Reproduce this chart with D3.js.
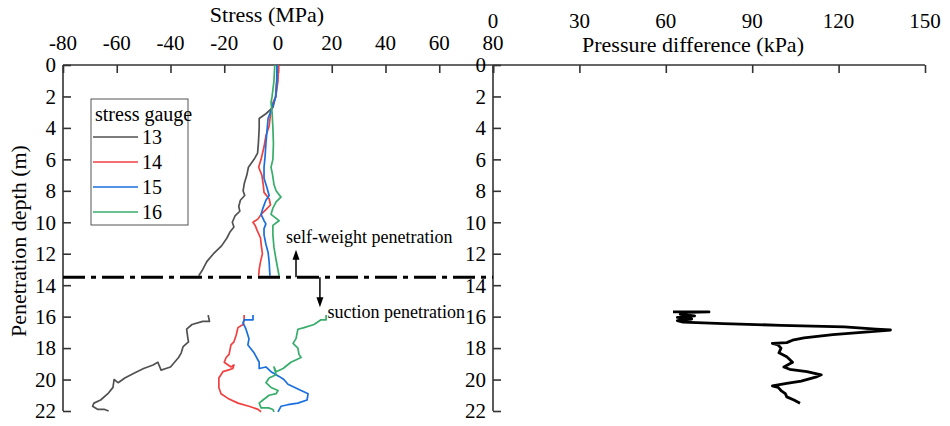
<!DOCTYPE html>
<html>
<head>
<meta charset="utf-8">
<script src="https://cdn.jsdelivr.net/npm/d3@7"></script>
<style>
  body { margin: 0; background: #fff; }
  svg text { font-family: "Liberation Serif", "Times New Roman", serif; }
</style>
</head>
<body>
<svg id="chart" width="950" height="426"></svg>
<script>
// depth (m), stress (MPa)
const gauge13Upper = [[0,-0.3],[1,-0.5],[2,-0.9],[2.7,-1.9],[3.1,-4.5],[3.4,-7],[4,-7],[5,-7.3],[5.6,-7.6],[6,-8.9],[6.5,-11],[7,-11.6],[7.5,-12.5],[8,-13],[8.3,-12.4],[8.6,-14],[9,-14.6],[9.3,-14.2],[9.6,-16],[10,-17],[10.3,-16.4],[10.6,-17.8],[11,-19],[11.5,-21],[12,-24],[12.5,-26.5],[13,-28],[13.4,-29.5]];
const gauge14Upper = [[0,0.2],[1,0],[2,-0.8],[2.4,-1.9],[3,-2.7],[3.9,-3.3],[4.5,-4.5],[5.2,-5.2],[6,-6.3],[6.5,-7.2],[7,-6],[7.6,-5.5],[8.1,-5.2],[8.5,-3.3],[8.9,-2.8],[9.2,-4.5],[9.5,-6.3],[9.8,-7.5],[10,-9.3],[10.2,-8.5],[10.5,-7.8],[11,-6.5],[11.5,-6.2],[12,-5.8],[12.5,-6.5],[13,-7],[13.4,-7.2]];
const gauge15Upper = [[0,-0.3],[1,-0.4],[2,-0.8],[2.9,-2.6],[3.4,-3.7],[4,-4],[5,-4.5],[5.8,-4.8],[6.5,-5.2],[7.2,-5.2],[7.8,-4.1],[8.3,-3.3],[8.6,-4.5],[9.1,-5.6],[9.5,-6.3],[9.9,-5.2],[10.1,-4.5],[10.4,-5.2],[10.8,-5.2],[11.4,-4.5],[11.9,-3.7],[12.5,-3.3],[13.4,-3]];
const gauge16Upper = [[0,-1.2],[1,-1.5],[2,-2.2],[2.4,-2.6],[3,-2.2],[4,-1.9],[5,-1.7],[6,-1.9],[6.5,-2.6],[7,-2],[7.6,-1.5],[8,-0.7],[8.4,1.1],[8.7,-0.7],[9.1,-1.9],[9.5,-2.6],[9.9,0.4],[10.2,-1.9],[10.8,-1.9],[11.6,-1.5],[12.4,-0.7],[13.4,0.4]];

const gauge13Lower = [[15.9,-26],[16.3,-25.5],[16.3,-28],[16.5,-32],[16.8,-34],[17.3,-33.6],[17.6,-33.3],[17.9,-35.3],[18.3,-36],[18.6,-37],[19.2,-40],[19.3,-41.7],[19.4,-43.5],[18.9,-44.7],[19.07,-46.5],[19.3,-50],[19.6,-53.6],[19.9,-57],[20.2,-59.5],[20,-61],[20.5,-61.4],[20.9,-63.3],[21.3,-66],[21.5,-68.5],[21.7,-69],[21.9,-67],[21.9,-64.5],[22,-63]];
const gauge14Lower = [[15.9,-12.6],[16.2,-12.6],[16.5,-13],[16.7,-14.9],[17.2,-15.6],[17.6,-16.4],[17.8,-17.5],[18.4,-18.2],[18.6,-19.3],[18.9,-20],[19.2,-17.5],[19.07,-16.4],[19.3,-16.8],[19.4,-18.6],[19.5,-20.5],[19.9,-22],[20.5,-22],[20.9,-21.2],[21.2,-18.6],[21.5,-14.9],[21.7,-10.8],[21.9,-7.4],[22.05,-6.3]];
const gauge15Lower = [[15.9,-9.3],[16.2,-9.3],[16.2,-12.6],[16.4,-13],[16.8,-11.9],[17.4,-10.8],[17.8,-11.2],[18.3,-8.9],[18.9,-7],[19.3,-7],[19.2,-4.5],[19.5,-2.6],[19.8,0.4],[20,2.2],[20.3,3.7],[20.7,8.6],[20.9,11.2],[21.3,10.8],[21.5,7.4],[21.6,3.7],[21.7,1.1],[22.05,0]];
const gauge16Lower = [[15.9,17.9],[16.2,17.9],[16.2,16],[16.5,13.4],[16.7,9.7],[16.8,7.4],[17.4,6.7],[17.7,5.6],[18,7.4],[18.4,7.8],[18.6,8.6],[18.9,4.8],[19.3,1.9],[19.5,-0.7],[19.2,-1.5],[19.7,-0.7],[19.9,-3.3],[20.2,-4.5],[20.5,-2.6],[20.7,0],[20.9,-0.7],[21,-3.3],[21.3,-5.6],[21.5,-7],[21.8,-6.3],[21.8,-3.5],[21.9,-1.9],[22.05,-1.5]];

// depth (m), pressure difference (kPa)
const pressureDiff = [[15.7,62.5],[15.7,75],[15.72,68],[15.85,65],[15.95,70],[16.05,64],[16.15,69],[16.25,64],[16.35,66],[16.45,80],[16.55,100],[16.65,122],[16.8,133],[16.85,138],[17,128],[17.15,118],[17.35,108],[17.5,104],[17.65,102],[17.7,97],[17.8,99],[18,100],[18.3,99.3],[18.55,102],[18.9,104],[19.2,101],[19.35,103],[19.5,109],[19.7,114],[19.85,112],[20.1,107],[20.25,102],[20.4,97],[20.5,99],[20.7,100],[20.9,101.5],[21.1,102],[21.3,104.5],[21.5,106.6]];

const gaugeNames = ["13", "14", "15", "16"];
const gaugeColors = ["#515151", "#F14040", "#1A6FDF", "#37AD6B"];
const stressTicks = [-80, -60, -40, -20, 0, 20, 40, 60, 80];
const pressureTicks = [0, 30, 60, 90, 120, 150];
const depthTicks = [0, 2, 4, 6, 8, 10, 12, 14, 16, 18, 20, 22];
const boundaryDepth = 13.5;

const FONT = '"Liberation Serif", "Times New Roman", serif';
const svg = d3.select("#chart").attr("font-family", FONT);
const yTop = 65, yBottom = 411;
const leftX0 = 63, leftX1 = 493, rightX1 = 925;

const y = d3.scaleLinear().domain([0, 22]).range([yTop, yBottom]);
const xS = d3.scaleLinear().domain([-80, 80]).range([leftX0, leftX1]);
const xP = d3.scaleLinear().domain([0, 150]).range([leftX1, rightX1]);

const axisColor = "#333";

// top axis, left panel (stress)
const gS = svg.append("g").attr("transform", `translate(0,${yTop})`);
gS.call(d3.axisBottom(xS).tickValues(d3.range(-70, 80, 20)).tickSize(4).tickFormat(""));
gS.call(d3.axisBottom(xS).tickValues(stressTicks).tickSize(8).tickFormat(""));
gS.selectAll(".domain").remove();
svg.append("g").selectAll("text").data(stressTicks).join("text")
    .attr("x", d => xS(d)).attr("y", 50)
    .attr("text-anchor", "middle").attr("font-size", 21).attr("font-family", FONT)
    .text(d => d);

// top axis, right panel (pressure)
const gP = svg.append("g").attr("transform", `translate(0,${yTop})`);
gP.call(d3.axisBottom(xP).tickValues(d3.range(15, 150, 30)).tickSize(4).tickFormat(""));
gP.call(d3.axisBottom(xP).tickValues(pressureTicks).tickSize(8).tickFormat(""));
gP.selectAll(".domain").remove();
svg.append("g").selectAll("text").data(pressureTicks).join("text")
    .attr("x", d => xP(d)).attr("y", 28)
    .attr("text-anchor", "middle").attr("font-size", 21).attr("font-family", FONT)
    .text(d => d);

svg.append("line").attr("x1", leftX0).attr("x2", rightX1).attr("y1", yTop).attr("y2", yTop)
    .attr("stroke", axisColor).attr("stroke-width", 1.6);

// y axes (ticks inward, to the right)
[leftX0, leftX1].forEach(xx => {
  const g = svg.append("g").attr("transform", `translate(${xx},0)`);
  g.call(d3.axisRight(y).tickValues(d3.range(1, 22, 2)).tickSize(4).tickFormat(""));
  g.call(d3.axisRight(y).tickValues(depthTicks).tickSize(8).tickFormat(""));
  g.selectAll(".domain").remove();
  g.append("line").attr("y1", yTop).attr("y2", yBottom).attr("stroke", axisColor).attr("stroke-width", 1.6);
  g.selectAll("text.lbl").data(depthTicks).join("text").attr("class", "lbl")
      .attr("x", -7).attr("y", d => y(d)).attr("dy", "0.35em")
      .attr("text-anchor", "end").attr("font-size", 21).attr("font-family", FONT).attr("fill", "#000")
      .text(d => d);
});
svg.selectAll(".tick line").attr("stroke", axisColor).attr("stroke-width", 1.6);

// titles
svg.append("text").attr("x", 267).attr("y", 22).attr("text-anchor", "middle")
    .attr("font-size", 22).attr("font-family", FONT).text("Stress (MPa)");
svg.append("text").attr("x", 693).attr("y", 52).attr("text-anchor", "middle")
    .attr("font-size", 22).attr("font-family", FONT).text("Pressure difference (kPa)");
svg.append("text").attr("transform", "translate(26,241) rotate(-90)").attr("text-anchor", "middle")
    .attr("font-size", 22).attr("font-family", FONT).text("Penetration depth (m)");

// stress curves
const lineS = d3.line().x(d => xS(d[1])).y(d => y(d[0]));
const upper = [gauge13Upper, gauge14Upper, gauge15Upper, gauge16Upper];
const lower = [gauge13Lower, gauge14Lower, gauge15Lower, gauge16Lower];
upper.forEach((seg, i) => {
  svg.append("path").attr("d", lineS(seg)).attr("fill", "none")
      .attr("stroke", gaugeColors[i]).attr("stroke-width", 1.7).attr("stroke-linejoin", "round");
});
lower.forEach((seg, i) => {
  svg.append("path").attr("d", lineS(seg)).attr("fill", "none")
      .attr("stroke", gaugeColors[i]).attr("stroke-width", 1.7).attr("stroke-linejoin", "round");
});

// pressure difference curve
const lineP = d3.line().x(d => xP(d[1])).y(d => y(d[0]));
svg.append("path").attr("d", lineP(pressureDiff)).attr("fill", "none")
    .attr("stroke", "#000").attr("stroke-width", 2.8).attr("stroke-linejoin", "round");

// boundary between self-weight and suction penetration
svg.append("line")
    .attr("x1", xS(-80)).attr("x2", xS(80))
    .attr("y1", y(boundaryDepth)).attr("y2", y(boundaryDepth))
    .attr("stroke", "#000").attr("stroke-width", 3)
    .attr("stroke-dasharray", "22,6,5,6");

// arrows
function arrow(xv, d0, d1) {
  const x0 = xS(xv), y0 = y(d0), y1 = y(d1);
  const dir = y1 < y0 ? 1 : -1;
  svg.append("line").attr("x1", x0).attr("x2", x0).attr("y1", y0).attr("y2", y1 + dir * 8)
      .attr("stroke", "#000").attr("stroke-width", 1.5);
  svg.append("path")
      .attr("d", `M${x0},${y1} L${x0 - 3.5},${y1 + dir * 10} L${x0 + 3.5},${y1 + dir * 10} Z`)
      .attr("fill", "#000");
}
arrow(6.7, boundaryDepth, 11.75);
arrow(15.6, boundaryDepth, 15.4);

svg.append("text").attr("x", xS(3)).attr("y", y(11.3)).attr("font-size", 18).attr("font-family", FONT)
    .text("self-weight penetration");
svg.append("text").attr("x", xS(18.4)).attr("y", y(16.1)).attr("font-size", 18).attr("font-family", FONT)
    .text("suction penetration");

// legend
const leg = svg.append("g").attr("transform", "translate(91,99)");
leg.append("rect").attr("width", 97).attr("height", 126)
    .attr("fill", "#fff").attr("stroke", "#555").attr("stroke-width", 1);
leg.append("text").attr("x", 4).attr("y", 22).attr("font-size", 20).attr("font-family", FONT).text("stress gauge");
gaugeNames.forEach((n, i) => {
  const yy = 38 + i * 25;
  leg.append("line").attr("x1", 2).attr("x2", 47).attr("y1", yy).attr("y2", yy)
      .attr("stroke", gaugeColors[i]).attr("stroke-width", 1.7);
  leg.append("text").attr("x", 51).attr("y", yy).attr("dy", "0.35em").attr("font-size", 20)
      .attr("font-family", FONT).text(n);
});
</script>
</body>
</html>
